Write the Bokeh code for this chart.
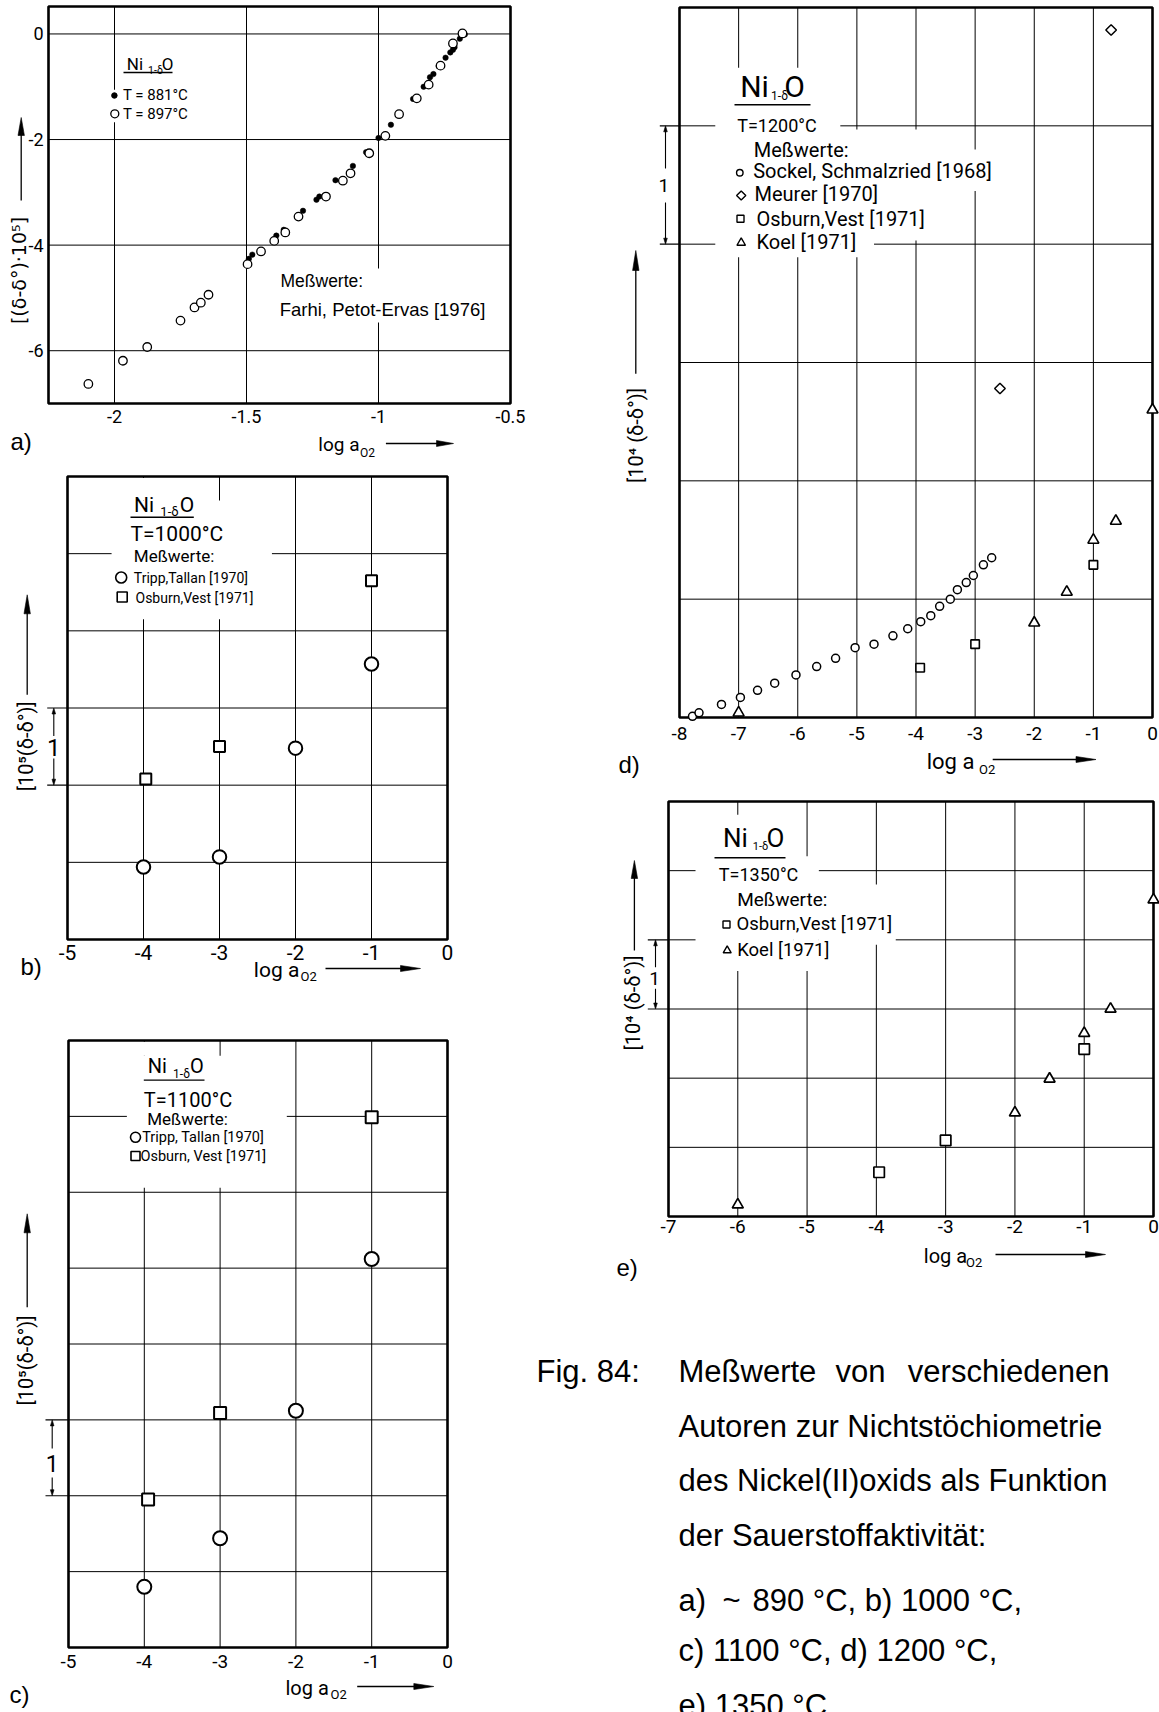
import math
from bokeh.plotting import figure
from bokeh.layouts import row, column
from bokeh.models import Range1d, Label
from bokeh.core.properties import value
from bokeh.embed import file_html
from bokeh.resources import INLINE

# ---------------------------------------------------------------------------
# Measured values
# ---------------------------------------------------------------------------
# a) ~890 °C, Farhi, Petot-Ervas [1976]   x: log a_O2, y: (δ-δ°)·10^5
a_x_881 = [-1.491, -1.478, -1.387, -1.359, -1.286, -1.235, -1.224, -1.163, -1.097,
           -1.047, -1.000, -0.953, -0.869, -0.829, -0.805, -0.792, -0.772, -0.746,
           -0.728, -0.718, -0.712, -0.692, -0.673]
a_y_881 = [-4.26, -4.18, -3.82, -3.71, -3.35, -3.14, -3.08, -2.77, -2.50, -2.24,
           -1.97, -1.72, -1.23, -1.00, -0.82, -0.76, -0.61, -0.45, -0.35, -0.30,
           -0.25, -0.09, -0.01]
a_x_897 = [-2.099, -1.968, -1.876, -1.750, -1.697, -1.673, -1.644, -1.496, -1.445,
           -1.395, -1.353, -1.303, -1.199, -1.135, -1.106, -1.035, -0.974, -0.922,
           -0.855, -0.810, -0.765, -0.718, -0.682]
a_y_897 = [-6.63, -6.19, -5.93, -5.43, -5.18, -5.09, -4.94, -4.36, -4.12, -3.92,
           -3.76, -3.46, -3.08, -2.78, -2.64, -2.26, -1.93, -1.52, -1.22, -0.96,
           -0.60, -0.18, 0.01]

# b) 1000 °C   y: 10^5(δ-δ°), one grid step = 1
b_tripp_x = [-4, -3, -2, -1]
b_tripp_y = [0.94, 1.07, 2.48, 3.57]
b_osburn_x = [-3.97, -3, -1]
b_osburn_y = [2.08, 2.50, 4.65]

# c) 1100 °C
c_tripp_x = [-4, -3, -2, -1]
c_tripp_y = [0.80, 1.44, 3.12, 5.12]
c_osburn_x = [-3.95, -3, -1]
c_osburn_y = [1.95, 3.09, 6.99]

# d) 1200 °C   y: 10^4(δ-δ°)
d_sockel_x = [-7.78, -7.67, -7.29, -6.97, -6.68, -6.39, -6.03, -5.68, -5.36, -5.03,
              -4.71, -4.39, -4.14, -3.92, -3.75, -3.60, -3.42, -3.30, -3.15, -3.03,
              -2.86, -2.72]
d_sockel_y = [0.01, 0.04, 0.11, 0.17, 0.23, 0.29, 0.36, 0.43, 0.50, 0.59, 0.62,
              0.69, 0.75, 0.81, 0.86, 0.94, 1.00, 1.08, 1.14, 1.20, 1.29, 1.35]
d_meurer_x = [-2.58, -0.70]
d_meurer_y = [2.78, 5.81]
d_osburn_x = [-3.93, -3.0, -1.0]
d_osburn_y = [0.42, 0.62, 1.29]
d_koel_x = [-7.0, -2.0, -1.45, -1.0, -0.62, 0.0]
d_koel_y = [0.04, 0.80, 1.06, 1.50, 1.66, 2.60]

# e) 1350 °C
e_osburn_x = [-3.96, -3.0, -1.0]
e_osburn_y = [0.64, 1.10, 2.42]
e_koel_x = [-6.0, -2.0, -1.5, -1.0, -0.62, 0.0]
e_koel_y = [0.17, 1.50, 1.99, 2.65, 3.00, 4.58]

# tick labels
a_xticks = [-2, -1.5, -1, -0.5]
a_xlabels = ["-2", "-1.5", "-1", "-0.5"]
a_yticks = [-6, -4, -2, 0]
a_ylabels = ["-6", "-4", "-2", "0"]
bc_xticks = [-5, -4, -3, -2, -1, 0]
bc_xlabels = ["-5", "-4", "-3", "-2", "-1", "0"]
d_xticks = [-8, -7, -6, -5, -4, -3, -2, -1, 0]
d_xlabels = ["-8", "-7", "-6", "-5", "-4", "-3", "-2", "-1", "0"]
e_xticks = [-7, -6, -5, -4, -3, -2, -1, 0]
e_xlabels = ["-7", "-6", "-5", "-4", "-3", "-2", "-1", "0"]

DIN = "Roboto"
SANS = "Liberation Sans"


# ---------------------------------------------------------------------------
# Page geometry: each figure covers a block of the page, its data box sits
# at a given pixel rectangle inside it.
# ---------------------------------------------------------------------------
class Box:
    def __init__(self, fig, box, xr, yr):
        self.px, self.py, self.w, self.h = fig
        self.L, self.T, self.R, self.B = box
        self.x0, self.x1 = xr
        self.ybot, self.ytop = yr

    def x(self, X):
        return self.x0 + (X - self.L) / (self.R - self.L) * (self.x1 - self.x0)

    def y(self, Y):
        return self.ytop + (Y - self.T) / (self.B - self.T) * (self.ybot - self.ytop)

    def X(self, x):
        return self.L + (x - self.x0) / (self.x1 - self.x0) * (self.R - self.L)

    def Y(self, y):
        return self.T + (y - self.ytop) / (self.ybot - self.ytop) * (self.B - self.T)


def make_fig(b):
    p = figure(width=b.w, height=b.h,
               x_range=Range1d(b.x(b.px), b.x(b.px + b.w)),
               y_range=Range1d(b.y(b.py + b.h), b.y(b.py)),
               output_backend="svg", toolbar_location=None, title=None,
               x_axis_location=None, y_axis_location=None,
               min_border_left=0, min_border_right=0,
               min_border_top=0, min_border_bottom=0)
    p.grid.visible = False
    p.outline_line_color = None
    p.background_fill_color = "white"
    p.border_fill_color = "white"
    return p


def grid_and_masks(p, b, xgrid, ygrid, rects):
    # grid lines across the data box
    p.segment(x0=xgrid, y0=[b.ybot] * len(xgrid), x1=xgrid, y1=[b.ytop] * len(xgrid),
              line_color="black", line_width=1.0)
    p.segment(x0=[b.x0] * len(ygrid), y0=ygrid, x1=[b.x1] * len(ygrid), y1=ygrid,
              line_color="black", line_width=1.0)
    # blank area behind the legend text
    if rects:
        p.quad(left=[r[0] for r in rects], right=[r[1] for r in rects],
               bottom=[r[2] for r in rects], top=[r[3] for r in rects],
               fill_color="white", line_color=None)
    # heavy frame
    p.quad(left=[b.x0], right=[b.x1], bottom=[b.ybot], top=[b.ytop],
           fill_color=None, line_color="black", line_width=2.6)


def tick_labels(p, b, ticks, labels, Yc, size):
    p.text(x=ticks, y=[b.y(Yc)] * len(ticks), text=labels,
           text_font=value(DIN), text_font_size=value(f"{size}px"),
           text_align="center", text_baseline="middle", text_color="black")


def label(p, b, X, Y, text, size, font=DIN, align="left", baseline="alphabetic", angle=0.0):
    # Y is the text baseline; the label is anchored on its middle line
    if baseline == "alphabetic":
        Y = Y - 0.345 * size
        baseline = "middle"
    p.add_layout(Label(x=b.x(X), y=b.y(Y), text=text, text_font=font,
                       text_font_size=f"{size}px", text_align=align,
                       text_baseline=baseline, angle=angle, text_color="black"))


def mid_label(p, b, X, Yc, text, size, font=DIN, align="left"):
    label(p, b, X, Yc, text, size, font=font, align=align, baseline="middle")


def line(p, b, X0, Y0, X1, Y1, lw=1.2):
    p.segment(x0=[b.x(X0)], y0=[b.y(Y0)], x1=[b.x(X1)], y1=[b.y(Y1)],
              line_color="black", line_width=lw)


def arrow(p, b, X0, Y0, X1, Y1, head=18.0, half=3.0, lw=1.2):
    L = math.hypot(X1 - X0, Y1 - Y0)
    ux, uy = (X1 - X0) / L, (Y1 - Y0) / L
    bx, by = X1 - ux * head, Y1 - uy * head
    line(p, b, X0, Y0, bx + ux * 2, by + uy * 2, lw)
    nx, ny = -uy, ux
    xs = [X1, bx + nx * half, bx - nx * half]
    ys = [Y1, by + ny * half, by - ny * half]
    p.patch(x=[b.x(v) for v in xs], y=[b.y(v) for v in ys],
            fill_color="black", line_color="black", line_width=0.6)


def bracket(p, b, X, lab_X, y_hi, y_lo, tick_from, gap_top, gap_bot, size):
    Yh, Yl = b.Y(y_hi), b.Y(y_lo)
    line(p, b, tick_from, Yh, b.L, Yh, 1.2)
    line(p, b, tick_from, Yl, b.L, Yl, 1.2)
    arrow(p, b, X, gap_top, X, Yh, head=6, half=1.8, lw=1.1)
    arrow(p, b, X, gap_bot, X, Yl, head=6, half=1.8, lw=1.1)
    mid_label(p, b, lab_X, (gap_top + gap_bot) / 2, "1", size, align="center")


def formula(p, b, centers, base, sub_base, big, small, ul):
    label(p, b, centers[0], base, "Ni", big, align="center")
    label(p, b, centers[1], sub_base, "1-δ", small, align="center")
    label(p, b, centers[2], base, "O", big, align="center")
    X0, X1, Yu = ul
    line(p, b, X0, Yu, X1, Yu, 1.4)


def xlabel(p, b, X, Yc, sub_X, sub_Yc, size, sub_size, ax0, ax1, aY, head=19):
    mid_label(p, b, X, Yc, "log a", size)
    mid_label(p, b, sub_X, sub_Yc, "O2", sub_size)
    arrow(p, b, ax0, aY, ax1, aY, head=head, half=3.0, lw=1.3)


def ylabel(p, b, X, Yc, text, size, aX, a0, a1, font=DIN, head=19):
    label(p, b, X, Yc, text, size, font=font, align="center", baseline="middle",
          angle=math.pi / 2)
    arrow(p, b, aX, a0, aX, a1, head=head, half=3.2, lw=1.3)


def open_pts(p, xs, ys, marker, size, lw, angle=0.0):
    p.scatter(xs, ys, marker=marker, size=size, angle=angle, fill_color="white",
              line_color="black", line_width=lw)


# ---------------------------------------------------------------------------
# a) ~890 °C
# ---------------------------------------------------------------------------
ga = Box((0, 0, 530, 466), (48, 6, 510, 403), (-2.25, -0.5), (-7.0, 0.52))
pa = make_fig(ga)
grid_and_masks(pa, ga, [-2, -1.5, -1], [-6, -4, -2, 0],
               [(-2.025, -1.975, ga.y(121.7), ga.y(89.3)),
                (ga.x(272), ga.x(492), ga.y(322), ga.y(268))])
tick_labels(pa, ga, a_xticks, a_xlabels, 416, 18)
pa.text(x=[ga.x(43)] * len(a_yticks), y=a_yticks, text=a_ylabels,
        text_font=value(DIN), text_font_size=value("18px"),
        text_align="right", text_baseline="middle", text_color="black")
pa.scatter(a_x_881, a_y_881, marker="circle", size=5.5, fill_color="black",
           line_color="black", line_width=0.5)
open_pts(pa, a_x_897, a_y_897, "circle", 8.5, 1.3)
formula(pa, ga, (134.5, 155, 167), 69.5, 74, 17, 10.5, (123, 172, 72))
pa.scatter([ga.x(113.9)], [ga.y(95)], marker="circle", size=5.5, fill_color="black",
           line_color="black")
open_pts(pa, [ga.x(114.3)], [ga.y(113.3)], "circle", 8, 1.3)
label(pa, ga, 122.4, 100, "T = 881°C", 15)
label(pa, ga, 122.4, 119, "T = 897°C", 15)
label(pa, ga, 280, 286.7, "Meßwerte:", 17.5, font=SANS)
label(pa, ga, 279.2, 315, "Farhi, Petot-Ervas [1976]", 18.5, font=SANS)
ylabel(pa, ga, 18.3, 270, "[(δ-δ°)·10⁵]", 19, 20.7, 200, 117, font="DejaVu Sans", head=18)
xlabel(pa, ga, 317.8, 444, 359.5, 452, 19, 12, 385.4, 453, 443, head=17)
mid_label(pa, ga, 10, 441, "a)", 24, font=SANS)

# ---------------------------------------------------------------------------
# b) 1000 °C
# ---------------------------------------------------------------------------
gb = Box((0, 466, 530, 534), (67, 476, 447, 939), (-5, 0), (0, 6))
pb = make_fig(gb)
grid_and_masks(pb, gb, [-4, -3, -2, -1], [1, 2, 3, 4, 5],
               [(-4.42, -2.31, 4.15, 5.69), (-4.42, -3.15, 5.69, 5.98)])
tick_labels(pb, gb, bc_xticks, bc_xlabels, 952, 21)
open_pts(pb, b_tripp_x, b_tripp_y, "circle", 13.5, 2)
open_pts(pb, b_osburn_x, b_osburn_y, "square", 11, 2)
formula(pb, gb, (143.5, 169, 186.5), 511.7, 515.8, 21, 13, (130, 193.3, 516.8))
label(pb, gb, 130, 540.9, "T=1000°C", 21)
label(pb, gb, 133.3, 561.5, "Meßwerte:", 17)
open_pts(pb, [gb.x(120.7)], [gb.y(577)], "circle", 11, 1.6)
label(pb, gb, 133.3, 582, "Tripp,Tallan [1970]", 14)
open_pts(pb, [gb.x(121.7)], [gb.y(596.5)], "square", 10, 1.6)
label(pb, gb, 135, 602, "Osburn,Vest [1971]", 14)
ylabel(pb, gb, 25, 745.8, "[10⁵(δ-δ°)]", 20, 26.7, 694.2, 594.3)
bracket(pb, gb, 53.3, 53.3, 3, 2, 46.7, 735.5, 757.9, 24)
xlabel(pb, gb, 253.3, 969, 300, 976, 21, 13, 325, 420, 968, head=20)
mid_label(pb, gb, 20, 966, "b)", 24, font=SANS)

# ---------------------------------------------------------------------------
# c) 1100 °C
# ---------------------------------------------------------------------------
gc = Box((0, 1000, 530, 712), (68, 1040, 447, 1647), (-5, 0), (0, 8))
pc = make_fig(gc)
grid_and_masks(pc, gc, [-4, -3, -2, -1], [1, 2, 3, 4, 5, 6, 7],
               [(-4.23, -2.12, 6.06, 7.80), (-4.23, -3.15, 7.80, 7.985)])
tick_labels(pc, gc, bc_xticks, bc_xlabels, 1661, 19)
open_pts(pc, c_tripp_x, c_tripp_y, "circle", 14, 2)
open_pts(pc, c_osburn_x, c_osburn_y, "square", 12, 2)
formula(pc, gc, (156.7, 181, 196.5), 1072.1, 1077.4, 20, 12, (143.3, 204, 1079.6))
label(pc, gc, 143.3, 1106, "T=1100°C", 20)
label(pc, gc, 146.7, 1124.5, "Meßwerte:", 17)
open_pts(pc, [gc.x(135)], [gc.y(1136.8)], "circle", 10, 1.6)
label(pc, gc, 141.7, 1142, "Tripp, Tallan [1970]", 14.5)
open_pts(pc, [gc.x(135)], [gc.y(1155.5)], "square", 9, 1.6)
label(pc, gc, 140, 1161, "Osburn, Vest [1971]", 14.5)
ylabel(pc, gc, 25, 1360, "[10⁵(δ-δ°)]", 20, 26.7, 1306.7, 1213.3)
bracket(pc, gc, 51.7, 51.7, 3, 2, 45, 1448, 1477, 23)
xlabel(pc, gc, 285, 1687, 330, 1694, 20, 13, 356.7, 433.3, 1686, head=20)
mid_label(pc, gc, 9, 1694, "c)", 24, font=SANS)

# ---------------------------------------------------------------------------
# d) 1200 °C
# ---------------------------------------------------------------------------
gd = Box((530, 0, 629, 780), (679, 7, 1152, 717), (-8, 0), (0, 6))
pd = make_fig(gd)
grid_and_masks(pd, gd, [-7, -6, -5, -4, -3, -2, -1], [1, 2, 3, 4, 5],
               [(-7.395, -5.28, 3.89, 5.49), (-5.28, -4.71, 3.89, 4.97),
                (-4.71, -3.70, 4.03, 4.97), (-3.70, -2.68, 4.45, 4.80)])
tick_labels(pd, gd, d_xticks, d_xlabels, 733, 19)
open_pts(pd, d_sockel_x, d_sockel_y, "circle", 8, 1.5)
open_pts(pd, d_meurer_x, d_meurer_y, "square", 7.5, 1.5, angle=math.pi / 4)
open_pts(pd, d_osburn_x, d_osburn_y, "square", 8.5, 1.6)
open_pts(pd, d_koel_x, d_koel_y, "triangle", 11, 1.6)
formula(pd, gd, (754, 779, 794), 96.7, 100, 30, 12, (734, 810, 104.3))
label(pd, gd, 736.7, 131.5, "T=1200°C", 18)
label(pd, gd, 753.3, 156.5, "Meßwerte:", 20)
open_pts(pd, [gd.x(739.3)], [gd.y(172.3)], "circle", 6.5, 1.4)
label(pd, gd, 752.7, 177.3, "Sockel, Schmalzried [1968]", 20)
open_pts(pd, [gd.x(740.7)], [gd.y(195)], "square", 6.5, 1.4, angle=math.pi / 4)
label(pd, gd, 754, 200.7, "Meurer [1970]", 20)
open_pts(pd, [gd.x(740)], [gd.y(218.3)], "square", 7, 1.4)
label(pd, gd, 756, 225, "Osburn,Vest [1971]", 20)
open_pts(pd, [gd.x(740.7)], [gd.y(242.3)], "triangle", 8.5, 1.4)
label(pd, gd, 756, 248.3, "Koel [1971]", 20)
ylabel(pd, gd, 635, 435, "[10⁴ (δ-δ°)]", 20, 635.3, 373.3, 250, head=20)
bracket(pd, gd, 665, 663.3, 5, 4, 659.3, 168, 202, 19)
xlabel(pd, gd, 926.2, 761, 978.5, 769, 22, 13, 992.2, 1095.5, 759, head=20)
mid_label(pd, gd, 618, 764, "d)", 24, font=SANS)

# ---------------------------------------------------------------------------
# e) 1350 °C
# ---------------------------------------------------------------------------
ge = Box((530, 780, 629, 510), (668, 801, 1153, 1216), (-7, 0), (0, 6))
pe = make_fig(ge)
grid_and_masks(pe, ge, [-6, -5, -4, -3, -2, -1], [1, 2, 3, 4, 5],
               [(-6.61, -5.20, 3.55, 5.81), (-5.20, -4.83, 3.55, 5.21),
                (-4.83, -3.72, 3.93, 4.80)])
tick_labels(pe, ge, e_xticks, e_xlabels, 1226, 19)
open_pts(pe, e_osburn_x, e_osburn_y, "square", 10.5, 1.7)
open_pts(pe, e_koel_x, e_koel_y, "triangle", 11, 1.7)
formula(pe, ge, (735, 760, 775), 846, 850, 26, 11, (714, 785, 857.3))
label(pe, ge, 718.3, 880, "T=1350°C", 18)
label(pe, ge, 736.7, 906, "Meßwerte:", 19)
open_pts(pe, [ge.x(726)], [ge.y(924)], "square", 7, 1.4)
label(pe, ge, 736, 930, "Osburn,Vest [1971]", 18.5)
open_pts(pe, [ge.x(726.7)], [ge.y(950)], "triangle", 8, 1.4)
label(pe, ge, 736.7, 956, "Koel [1971]", 18.5)
ylabel(pe, ge, 632, 1002.5, "[10⁴ (δ-δ°)]", 20, 633.9, 950, 860, head=18)
bracket(pe, ge, 655, 654, 4, 3, 647.3, 966.7, 988.3, 19)
xlabel(pe, ge, 923.3, 1255, 965.5, 1262, 20, 13, 995, 1105, 1254, head=20)
mid_label(pe, ge, 616, 1267, "e)", 24, font=SANS)

# ---------------------------------------------------------------------------
# Caption
# ---------------------------------------------------------------------------
gcap = Box((530, 1290, 629, 422), (530, 1290, 1159, 1712), (530, 1159), (1712, 1290))
pcap = make_fig(gcap)
CAP = 31
mid_label(pcap, gcap, 536, 1371, "Fig. 84:", CAP, font=SANS)
mid_label(pcap, gcap, 678, 1371, "Meßwerte", CAP, font=SANS)
mid_label(pcap, gcap, 860, 1371, "von", CAP, font=SANS, align="center")
mid_label(pcap, gcap, 1109, 1371, "verschiedenen", CAP, font=SANS, align="right")
mid_label(pcap, gcap, 678, 1425.5, "Autoren zur Nichtstöchiometrie", CAP, font=SANS)
mid_label(pcap, gcap, 678, 1480, "des Nickel(II)oxids als Funktion", CAP, font=SANS)
mid_label(pcap, gcap, 678, 1534.5, "der Sauerstoffaktivität:", CAP, font=SANS)
mid_label(pcap, gcap, 678, 1600, "a)", CAP, font=SANS)
mid_label(pcap, gcap, 722, 1600, "~", CAP, font=SANS)
mid_label(pcap, gcap, 752, 1600, "890 °C, b) 1000 °C,", CAP, font=SANS)
mid_label(pcap, gcap, 678, 1650, "c) 1100 °C, d) 1200 °C,", CAP, font=SANS)
mid_label(pcap, gcap, 678, 1704.5, "e) 1350 °C", CAP, font=SANS)

layout = row(column(pa, pb, pc), column(pd, pe, pcap))

with open("out.html", "w") as f:
    f.write(file_html(layout, INLINE))
